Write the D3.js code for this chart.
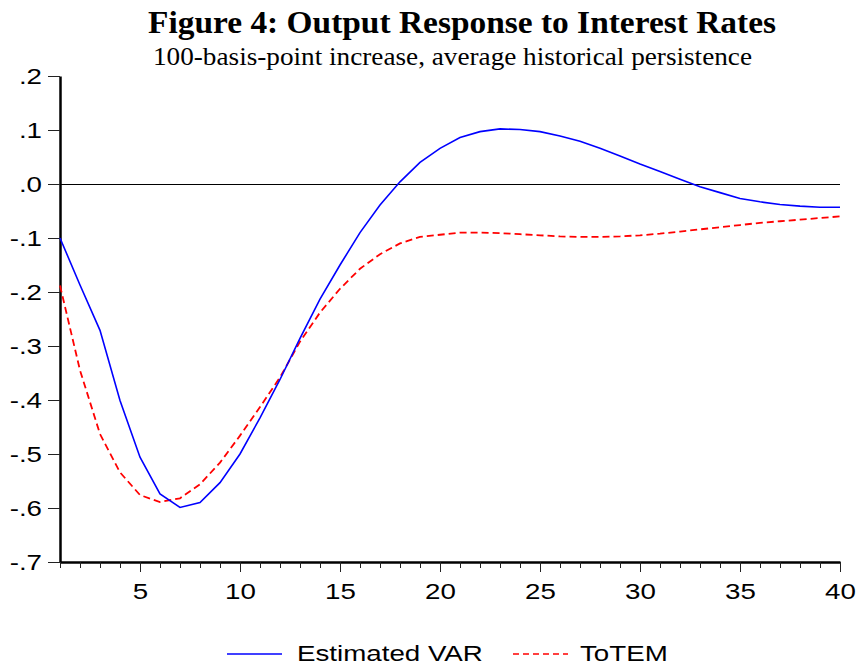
<!DOCTYPE html>
<html>
<head>
<meta charset="utf-8">
<script src="https://cdn.jsdelivr.net/npm/d3@7"></script>
<style>
  body { margin: 0; background: #fff; }
  svg { display: block; }
</style>
</head>
<body>
<script>
// data (quarters 1..40)
var quarters = d3.range(1, 41);
var estimatedVAR = [
  -0.100, -0.187, -0.271, -0.401, -0.506, -0.574, -0.599, -0.590, -0.553, -0.500,
  -0.433, -0.362, -0.286, -0.213, -0.150, -0.090, -0.039, 0.004, 0.040, 0.066,
  0.086, 0.097, 0.102, 0.101, 0.097, 0.089, 0.079, 0.066, 0.052, 0.037,
  0.023, 0.009, -0.005, -0.016, -0.027, -0.033, -0.038, -0.041, -0.043, -0.043
];
var toTEM = [
  -0.188, -0.345, -0.463, -0.534, -0.576, -0.589, -0.582, -0.556, -0.516, -0.466,
  -0.413, -0.358, -0.292, -0.238, -0.194, -0.157, -0.130, -0.110, -0.098, -0.094,
  -0.090, -0.090, -0.091, -0.093, -0.095, -0.097, -0.098, -0.098, -0.097, -0.095,
  -0.092, -0.088, -0.084, -0.080, -0.076, -0.072, -0.069, -0.066, -0.063, -0.060
];
var yTicks = [0.2, 0.1, 0, -0.1, -0.2, -0.3, -0.4, -0.5, -0.6, -0.7];
var seriesNames = ["Estimated VAR", "ToTEM"];

var width = 857, height = 664;
var stretch = 1.26; // the original text is wide

var x = d3.scaleLinear().domain([1, 40]).range([60, 840]),
    y = d3.scaleLinear().domain([-0.7, 0.2]).range([562, 76]);

var svg = d3.select("body").append("svg")
    .attr("width", width)
    .attr("height", height);

// titles
svg.append("text")
   .attr("x", 148).attr("y", 33)
   .attr("textLength", 628).attr("lengthAdjust", "spacingAndGlyphs")
   .style("font-family", "'Liberation Serif', 'Times New Roman', serif")
   .style("font-weight", "bold")
   .style("font-size", "32px")
   .text("Figure 4: Output Response to Interest Rates");

svg.append("text")
   .attr("x", 153).attr("y", 65)
   .attr("textLength", 599).attr("lengthAdjust", "spacingAndGlyphs")
   .style("font-family", "'Liberation Serif', 'Times New Roman', serif")
   .style("font-size", "25px")
   .text("100-basis-point increase, average historical persistence");

// zero line
svg.append("line")
   .attr("x1", x(1)).attr("x2", x(40))
   .attr("y1", y(0) + 0.5).attr("y2", y(0) + 0.5)
   .attr("stroke", "#000").attr("stroke-width", 1);

// axes
var fmt = function(d) {
  var n = Math.round(Math.abs(d) * 10);
  return (d < 0 ? "-" : "") + "." + n;
};

var axis_y = d3.axisLeft(y).tickValues(yTicks).tickSize(12).tickSizeOuter(0).tickFormat(fmt);
var gy = svg.append("g")
   .attr("transform", "translate(" + x(1) + ",0)")
   .call(axis_y);
gy.select(".domain").attr("stroke-width", 2.5);
gy.selectAll(".tick line").attr("stroke", "#222");
gy.selectAll(".tick text")
  .attr("x", -18 / stretch)
  .attr("transform", "scale(" + stretch + ",1)")
  .style("font-family", "'Liberation Sans', Arial, sans-serif")
  .style("font-size", "22px")
  .attr("fill", "#000");

var axis_x = d3.axisBottom(x).tickValues(quarters).tickSize(6).tickSizeOuter(0)
    .tickFormat(d => d % 5 === 0 ? d : "");
var gx = svg.append("g")
   .attr("transform", "translate(0," + y(-0.7) + ")")
   .call(axis_x);
gx.select(".domain").attr("stroke-width", 2.5);
gx.selectAll(".tick line")
  .attr("stroke", "#222")
  .attr("y2", d => d % 5 === 0 ? 10 : 6);
gx.selectAll(".tick text")
  .attr("dy", null)
  .attr("y", 37)
  .attr("transform", "scale(" + stretch + ",1)")
  .style("font-family", "'Liberation Sans', Arial, sans-serif")
  .style("font-size", "22px")
  .attr("fill", "#000");

// lines
var line = d3.line()
    .x((d, i) => x(quarters[i]))
    .y(d => y(d));

svg.append("path")
   .datum(toTEM)
   .attr("d", line)
   .attr("fill", "none")
   .attr("stroke", "#ff0000")
   .attr("stroke-width", 1.8)
   .attr("stroke-dasharray", "7,4");

svg.append("path")
   .datum(estimatedVAR)
   .attr("d", line)
   .attr("fill", "none")
   .attr("stroke", "#0000ff")
   .attr("stroke-width", 1.6);

// legend
var legend = [
  {name: seriesNames[0], color: "#0000ff", dash: null, x0: 227, tx: 297},
  {name: seriesNames[1], color: "#ff0000", dash: "6,4", x0: 513, tx: 580}
];
legend.forEach(function(l) {
  svg.append("line")
     .attr("x1", l.x0).attr("x2", l.x0 + 55)
     .attr("y1", 654).attr("y2", 654)
     .attr("stroke", l.color)
     .attr("stroke-width", 1.6)
     .attr("stroke-dasharray", l.dash);
  svg.append("text")
     .attr("transform", "translate(" + l.tx + ",661) scale(" + stretch + ",1)")
     .style("font-family", "'Liberation Sans', Arial, sans-serif")
     .style("font-size", "22px")
     .text(l.name);
});
</script>
</body>
</html>
